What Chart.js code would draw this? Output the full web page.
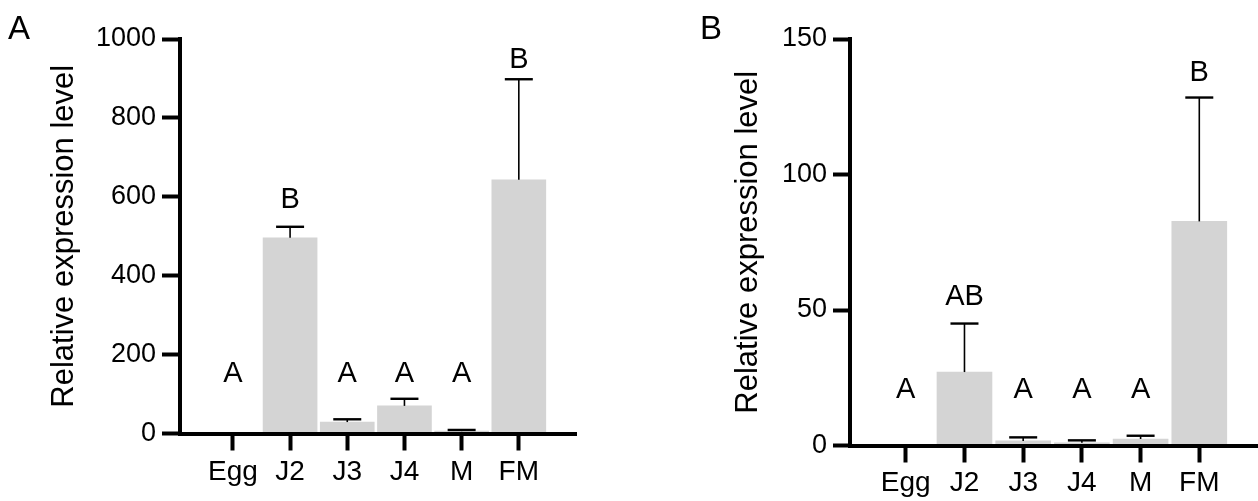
<!DOCTYPE html>
<html><head><meta charset="utf-8">
<script src="https://cdn.jsdelivr.net/npm/chart.js@4"></script>
<style>
html,body{margin:0;padding:0;background:#fff;}
body{width:1258px;height:501px;position:relative;overflow:hidden;font-family:"Liberation Sans",Arial,sans-serif;}
#wa{position:absolute;left:0;top:0;width:629px;height:501px;}
#wb{position:absolute;left:629px;top:0;width:629px;height:501px;}
.pl{position:absolute;font-size:33px;color:#000;line-height:1;}
</style></head><body>
<div id="wa"><canvas id="ca"></canvas></div>
<div id="wb"><canvas id="cb"></canvas></div>
<div class="pl" style="left:8px;top:11px">A</div>
<div class="pl" style="left:700px;top:11px">B</div>
<script>
// ---- data ----
const categories = ['Egg', 'J2', 'J3', 'J4', 'M', 'FM'];
const axisTitle = 'Relative expression level';

const valuesA = [0, 496, 29, 70, 6, 643];
const errorsA = [0, 28, 7, 18, 3, 255];
const lettersA = ['A', 'B', 'A', 'A', 'A', 'B'];
const letterLevelA = [131, 572, 131, 131, 131, 926];
const ticksA = [0, 200, 400, 600, 800, 1000];

const valuesB = [0, 27.1, 1.7, 1.0, 2.4, 82.7];
const errorsB = [0, 17.9, 1.3, 0.9, 1.2, 45.7];
const lettersB = ['A', 'AB', 'A', 'A', 'A', 'B'];
const letterLevelB = [17.4, 51.9, 17.4, 17.4, 17.4, 134.4];
const ticksB = [0, 50, 100, 150];

// ---- drawing ----
const FONT = '"Liberation Sans", Arial, sans-serif';
Chart.defaults.font.family = FONT;
Chart.defaults.color = '#000';

const annotPlugin = {
  id: 'annot',
  afterDatasetsDraw(chart) {
    const o = chart.options.plugins.annot;
    const xs = chart.scales.x, ys = chart.scales.y, ctx = chart.ctx;
    ctx.save();
    ctx.strokeStyle = '#000';
    o.values.forEach((v, i) => {
      const e = o.errors[i];
      if (e > 0) {
        const x = xs.getPixelForValue(i);
        const y0 = ys.getPixelForValue(v);
        const y1 = ys.getPixelForValue(v + e);
        ctx.lineWidth = 1.6;
        ctx.beginPath(); ctx.moveTo(x, y0); ctx.lineTo(x, y1); ctx.stroke();
        ctx.lineWidth = 2.4;
        ctx.beginPath(); ctx.moveTo(x - 14, y1); ctx.lineTo(x + 14, y1); ctx.stroke();
      }
    });
    ctx.fillStyle = '#000';
    ctx.font = '29px ' + FONT;
    ctx.textAlign = 'center';
    ctx.textBaseline = 'alphabetic';
    o.letters.forEach((t, i) => {
      ctx.fillText(t, xs.getPixelForValue(i), ys.getPixelForValue(o.levels[i]));
    });
    ctx.restore();
  }
};

function makeChart(id, vals, errs, letters, levels, yTicks, L) {
  new Chart(document.getElementById(id), {
    type: 'bar',
    data: {
      datasets: [{
        data: vals.map((v, i) => ({ x: i, y: v })),
        backgroundColor: '#d4d4d4',
        borderWidth: 0,
        barThickness: L.barW
      }]
    },
    options: {
      responsive: true,
      maintainAspectRatio: false,
      animation: false,
      events: [],
      layout: { padding: { left: 0, top: L.top, right: L.right, bottom: 0 } },
      plugins: {
        legend: { display: false },
        tooltip: { enabled: false },
        annot: { values: vals, errors: errs, letters: letters, levels: levels }
      },
      scales: {
        x: {
          type: 'linear',
          offset: false,
          min: L.xMin, max: L.xMax,
          afterBuildTicks: s => { s.ticks = categories.map((c, i) => ({ value: i })); },
          afterFit: s => { s.height = L.xh; },
          ticks: {
            autoSkip: false, maxRotation: 0, padding: L.xpad,
            font: { size: 28 }, color: '#000',
            callback: v => categories[v]
          },
          grid: { offset: false, drawOnChartArea: false, drawTicks: true, tickLength: 17, tickWidth: 4, tickColor: '#000' },
          border: { display: true, color: '#000', width: 4, z: 1 }
        },
        y: {
          type: 'linear',
          min: yTicks[0], max: yTicks[yTicks.length - 1],
          afterBuildTicks: s => { s.ticks = yTicks.map(v => ({ value: v })); },
          afterFit: s => { s.width = L.left; },
          ticks: { padding: 6, font: { size: 27 }, color: '#000', callback: v => String(v) },
          grid: { drawOnChartArea: false, drawTicks: true, tickLength: L.tl, tickWidth: 4, tickColor: '#000' },
          border: { display: true, color: '#000', width: 4, z: 1 },
          title: {
            display: true, text: axisTitle, color: '#000',
            font: { size: 31 }, padding: { top: L.titlePad, bottom: 0 }
          }
        }
      }
    },
    plugins: [annotPlugin]
  });
}

makeChart('ca', valuesA, errorsA, lettersA, letterLevelA, ticksA,
  { left: 180, top: 39, right: 53, xh: 67.5, xMin: -0.925, xMax: 6.0, barW: 54, tl: 18, titlePad: 45.4, xpad: 4.5 });
makeChart('cb', valuesB, errorsB, lettersB, letterLevelB, ticksB,
  { left: 221, top: 39, right: 0, xh: 55.5, xMin: -0.95, xMax: 6.0, barW: 55, tl: 17, titlePad: 100.4, xpad: 3.5 });
</script>
</body></html>
